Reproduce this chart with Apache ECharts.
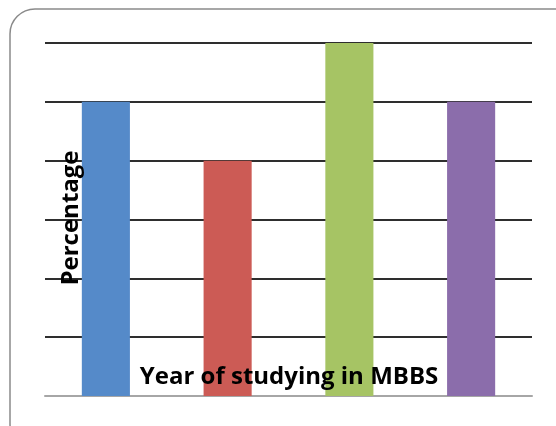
<!DOCTYPE html>
<html>
<head>
<meta charset="utf-8">
<script src="https://cdn.jsdelivr.net/npm/echarts@6/dist/echarts.min.js"></script>
<style>
html,body{margin:0;padding:0;background:#fff;}
#chart{width:556px;height:426px;}
</style>
</head>
<body>
<div id="chart"></div>
<script>
const categories = ['Year 1', 'Year 2', 'Year 3', 'Year 4'];
const values = [5, 4, 6, 5];
const barColors = ['#558ac9', '#cc5b55', '#a6c464', '#8b6dab'];
const xTitle = 'Year of studying in MBBS';
const yTitle = 'Percentage';

const chart = echarts.init(document.getElementById('chart'));
chart.setOption({
  animation: false,
  grid: { left: 45, right: 24, top: 43, bottom: 30 },
  xAxis: {
    type: 'category',
    data: categories,
    axisLine: { lineStyle: { color: '#a6a6a6', width: 2 } },
    axisTick: { show: false },
    axisLabel: { show: false },
    z: 1
  },
  yAxis: {
    type: 'value',
    min: 0,
    max: 6,
    interval: 1,
    axisLine: { show: false },
    axisTick: { show: false },
    axisLabel: { show: false },
    splitLine: { lineStyle: { color: '#2e2e2e', width: 2 } }
  },
  series: [{
    type: 'bar',
    data: values.map((v, i) => ({ value: v, itemStyle: { color: barColors[i] } })),
    barWidth: '39.5%',
    z: 3
  }],
  graphic: [
    {
      type: 'rect',
      shape: { x: 10, y: 9, width: 570, height: 440, r: 25 },
      style: { fill: 'none', stroke: '#8a8a8a', lineWidth: 1.5 },
      z: 0, silent: true
    },
    {
      type: 'text',
      x: 289, y: 377,
      style: { text: xTitle, font: 'bold 24px "Open Sans"', fill: '#000', align: 'center', verticalAlign: 'middle' },
      z: 100
    },
    {
      type: 'text',
      x: 71, y: 218,
      rotation: Math.PI / 2,
      style: { text: yTitle, font: 'bold 24px "Open Sans"', fill: '#000', align: 'center', verticalAlign: 'middle' },
      z: 100
    }
  ]
});
</script>
</body>
</html>
